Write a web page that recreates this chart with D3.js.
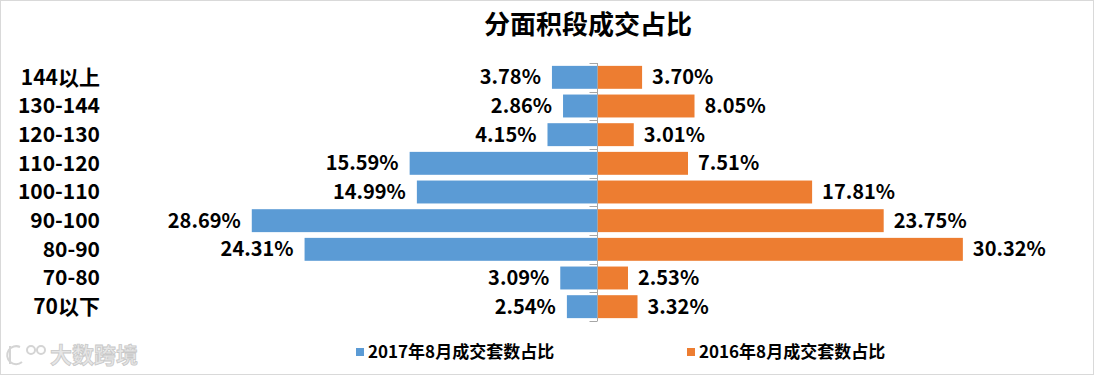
<!DOCTYPE html>
<html>
<head>
<meta charset="utf-8">
<script src="https://cdn.jsdelivr.net/npm/d3@7"></script>
<style>
  body { margin: 0; background: #fff; }
  text { font-family: "Noto Sans CJK SC", "Microsoft YaHei", sans-serif; font-weight: bold; }
</style>
</head>
<body>
<div id="chart-area"></div>
<script>
// Data
const categories = ['144以上', '130-144', '120-130', '110-120', '100-110', '90-100', '80-90', '70-80', '70以下'];
const share2017 = [3.78, 2.86, 4.15, 15.59, 14.99, 28.69, 24.31, 3.09, 2.54];
const share2016 = [3.70, 8.05, 3.01, 7.51, 17.81, 23.75, 30.32, 2.53, 3.32];
const seriesNames = ['2017年8月成交套数占比', '2016年8月成交套数占比'];
const colors = ['#5b9bd5', '#ed7d31'];

const width = 1095;
const height = 376;

const svg = d3.select('#chart-area')
    .append('svg')
    .attr('width', width)
    .attr('height', height);

// Border
svg.append('rect')
    .attr('x', 0.5)
    .attr('y', 0.5)
    .attr('width', width - 2)
    .attr('height', height - 2)
    .attr('fill', '#fff')
    .attr('stroke', '#d9d9d9');

// Title
svg.append('text')
    .attr('x', 588)
    .attr('y', 25)
    .attr('dy', '0.35em')
    .attr('text-anchor', 'middle')
    .attr('font-size', '26px')
    .attr('fill', '#000')
    .text('分面积段成交占比');

// Scales
const center = 597.5;
const pxPerPct = 12.05;
const x = d3.scaleLinear()
    .domain([-35, 35])
    .range([center - 35 * pxPerPct, center + 35 * pxPerPct]);

const y = d3.scaleBand()
    .domain(categories)
    .range([63, 321])
    .paddingInner(0.2)
    .paddingOuter(0.1);

// Category labels
svg.append('g')
    .selectAll('text')
    .data(categories)
    .enter()
    .append('text')
        .attr('x', 100)
        .attr('y', (d) => y(d) + y.bandwidth() / 2)
        .attr('dy', '0.35em')
        .attr('text-anchor', 'end')
        .attr('font-size', '21px')
        .attr('fill', '#000')
        .text((d) => d);

// Left bars (2017)
svg.append('g')
    .selectAll('rect')
    .data(share2017)
    .enter()
    .append('rect')
        .attr('x', (d) => x(-d))
        .attr('y', (d, i) => y(categories[i]))
        .attr('width', (d) => x(0) - x(-d))
        .attr('height', y.bandwidth())
        .attr('fill', colors[0]);

// Right bars (2016)
svg.append('g')
    .selectAll('rect')
    .data(share2016)
    .enter()
    .append('rect')
        .attr('x', x(0))
        .attr('y', (d, i) => y(categories[i]))
        .attr('width', (d) => x(d) - x(0))
        .attr('height', y.bandwidth())
        .attr('fill', colors[1]);

// Center axis with ticks between categories
const axisG = svg.append('g');
axisG.append('line')
    .attr('x1', x(0))
    .attr('x2', x(0))
    .attr('y1', 63)
    .attr('y2', 321)
    .attr('stroke', '#a6a6a6');

const step = y.step();
const tickYs = d3.range(categories.length + 1).map((i) => 63 + i * step);
axisG.selectAll('.tick')
    .data(tickYs)
    .enter()
    .append('line')
        .attr('class', 'tick')
        .attr('x1', x(0) - 8)
        .attr('x2', x(0))
        .attr('y1', (d) => Math.round(d) + 0.5)
        .attr('y2', (d) => Math.round(d) + 0.5)
        .attr('stroke', '#a6a6a6');

// Value labels
svg.append('g')
    .selectAll('text')
    .data(share2017)
    .enter()
    .append('text')
        .attr('x', (d) => x(-d) - 11)
        .attr('y', (d, i) => y(categories[i]) + y.bandwidth() / 2)
        .attr('dy', '0.35em')
        .attr('text-anchor', 'end')
        .attr('font-size', '20px')
        .attr('fill', '#000')
        .text((d) => d.toFixed(2) + '%');

svg.append('g')
    .selectAll('text')
    .data(share2016)
    .enter()
    .append('text')
        .attr('x', (d) => x(d) + 10)
        .attr('y', (d, i) => y(categories[i]) + y.bandwidth() / 2)
        .attr('dy', '0.35em')
        .attr('text-anchor', 'start')
        .attr('font-size', '20px')
        .attr('fill', '#000')
        .text((d) => d.toFixed(2) + '%');

// Legend
const legendX = [356, 687];
const legend = svg.append('g')
    .selectAll('g')
    .data(seriesNames)
    .enter()
    .append('g')
        .attr('transform', (d, i) => 'translate(' + legendX[i] + ', 352)');

legend.append('rect')
    .attr('x', 0)
    .attr('y', -4)
    .attr('width', 8)
    .attr('height', 8)
    .attr('fill', (d, i) => colors[i]);

legend.append('text')
    .attr('x', 12)
    .attr('y', 0)
    .attr('dy', '0.35em')
    .attr('font-size', '17px')
    .attr('fill', '#000')
    .text((d) => d);

// Watermark
const mark = svg.append('g')
    .attr('transform', 'translate(8, 355)')
    .attr('fill', 'none')
    .attr('stroke', '#d4d4d4')
    .attr('stroke-width', 2);
mark.append('path')
    .attr('d', 'M2,-9 L2,9 M12,-8 A9,9 0 1,0 14,7');
mark.append('circle').attr('cx', 23).attr('cy', -5).attr('r', 4);
mark.append('circle').attr('cx', 33).attr('cy', -5).attr('r', 4);

svg.append('text')
    .attr('x', 50)
    .attr('y', 355)
    .attr('dy', '0.35em')
    .attr('font-size', '22px')
    .attr('fill', '#e6e6e6')
    .attr('stroke', '#c8c8c8')
    .attr('stroke-width', 0.8)
    .text('大数跨境');
</script>
</body>
</html>
